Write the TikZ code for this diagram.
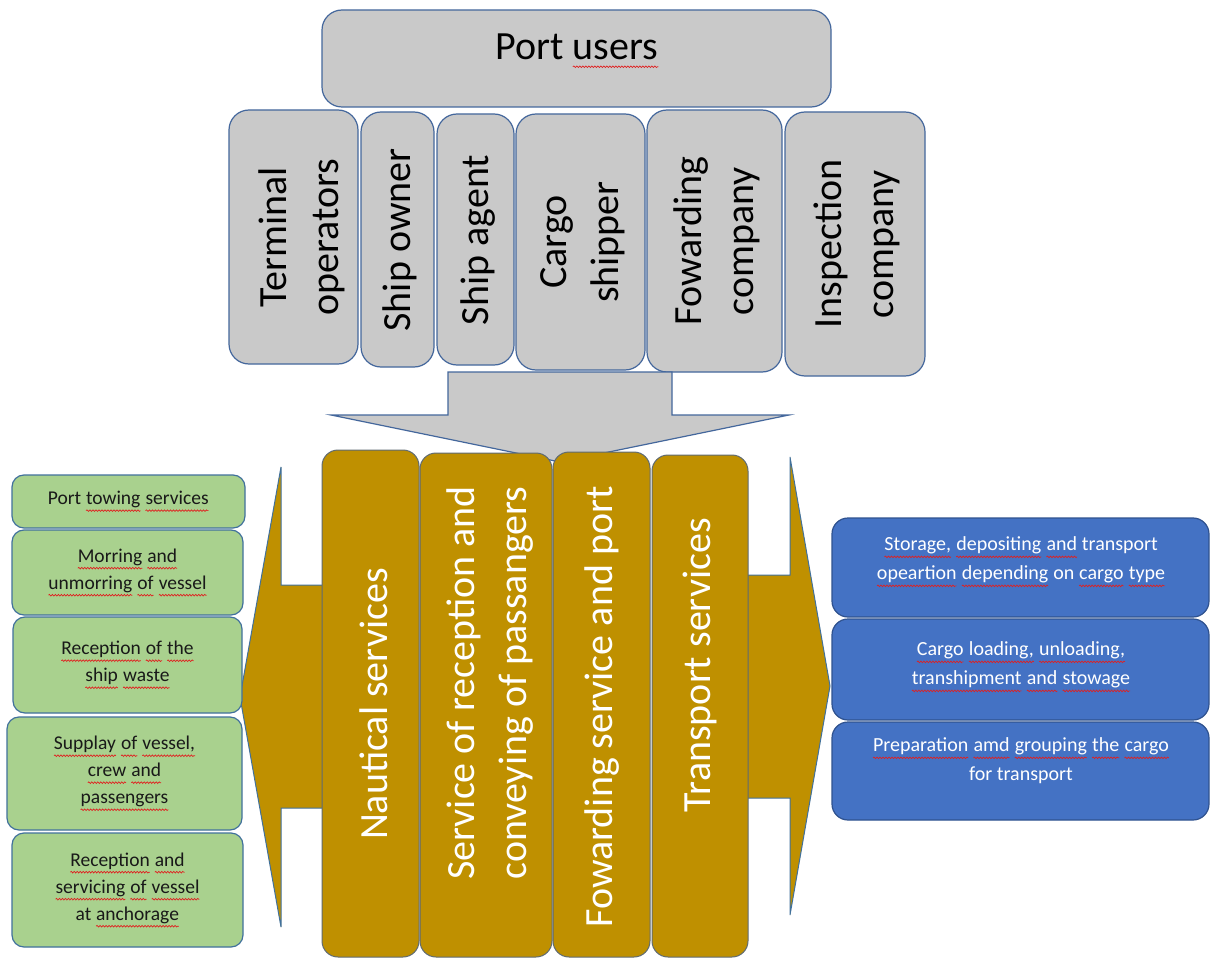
\documentclass[tikz,border=0pt]{standalone}
\usepackage{fontspec}
\setmainfont{Carlito}
\usetikzlibrary{fit,decorations.pathmorphing}
\definecolor{grayc}{HTML}{C9C9C9}
\definecolor{grayborder}{HTML}{44679C}
\definecolor{brownc}{HTML}{BF9000}
\definecolor{brownborder}{HTML}{5F6B73}
\definecolor{greenc}{HTML}{A9D18E}
\definecolor{greenborder}{HTML}{41719C}
\definecolor{bluec}{HTML}{4472C4}
\definecolor{blueborder}{HTML}{2F528F}
\definecolor{squig}{HTML}{E02020}
\newcommand\sqdrop{6pt}
\newcommand\sq[1]{\tikz[baseline=(w.base)]{\node[inner sep=0pt, outer sep=0pt, draw=none, fill=none, anchor=base] (w) at (0,0) {#1};
  \draw[squig, line width=0.7pt, decoration={snake, amplitude=0.8pt, segment length=3pt}, decorate]
  ([yshift=-\sqdrop]w.base west) -- ([yshift=-\sqdrop]w.base east);}}
\tikzset{
  box/.style={inner sep=0pt, outer sep=0pt, line width=1.2pt},
  graybox/.style={box, draw=grayborder, fill=grayc, rounded corners=20pt},
  brownbox/.style={box, draw=brownborder, fill=brownc, rounded corners=16pt, line width=1pt},
  greenbox/.style={box, draw=greenborder, fill=greenc, rounded corners=12pt},
  bluebox/.style={box, draw=blueborder, fill=bluec, rounded corners=16pt},
  coltext/.style={rotate=90, align=center, inner sep=0pt, font=\fontsize{40}{52}\selectfont, text=black},
  servtext/.style={coltext, text=white},
  titletext/.style={align=center, inner sep=0pt, font=\fontsize{40}{48}\selectfont, text=black},
  gtext/.style={align=center, inner sep=0pt, font=\fontsize{19.5}{27}\selectfont, text=black!90},
  btext/.style={align=center, inner sep=0pt, font=\fontsize{20}{29}\selectfont, text=white},
  grayarrow/.style={draw=grayborder, fill=grayc, line width=1.2pt, line join=miter},
  brownarrow/.style={draw=greenborder, fill=brownc, line width=1pt, line join=miter}
}
\begin{document}
\begin{tikzpicture}[x=1pt,y=-1pt]
\path[use as bounding box, fill=white] (0,0) rectangle (1211,960);

% Port users
\node[graybox, fit={(322,10) (831,107)}] (users) {};
\node[titletext] (userst) at (577,51) {Port \renewcommand\sqdrop{7pt}\sq{users}};

% user columns
\node[graybox, fit={(229,110) (358,364)}] (term) {};
\node[coltext] (termt) at (302,237) {Terminal\\operators};
\node[graybox, fit={(361,112) (434,367)}] (owner) {};
\node[coltext] (ownert) at (400,240) {Ship owner};
\node[graybox, fit={(437,114) (514,365)}] (agent) {};
\node[coltext] (agentt) at (478,240) {Ship agent};
\node[graybox, fit={(516,114) (645,370)}] (cargo) {};
\node[coltext] (cargot) at (583,242) {Cargo\\shipper};
\node[graybox, fit={(647,110) (782,372)}] (fwdc) {};
\node[coltext] (fwdct) at (717,241) {Fowarding\\company};
\node[graybox, fit={(785,112) (925,376)}] (insp) {};
\node[coltext] (inspt) at (857,244) {Inspection\\company};

% big gray arrow down
\path[grayarrow] (448,372) -- (672,372) -- (672,415) -- (789,415) -- (560,462)
  -- (331,415) -- (448,415) -- cycle;

% left and right brown arrows
\path[brownarrow] (330,585) -- (281,585) -- (281,467) -- (240,697) -- (281,927)
  -- (281,808) -- (330,808) -- cycle;
\path[brownarrow] (740,575) -- (790,575) -- (790,457) -- (830,686) -- (790,915)
  -- (790,798) -- (740,798) -- cycle;

% service columns
\node[brownbox, fit={(322,450) (419,957)}] (naut) {};
\node[servtext] (nautt) at (374,704) {Nautical services};
\node[brownbox, fit={(420,453) (552,957)}] (recp) {};
\node[servtext] (recpt) at (490,683) {Service of reception and\\conveying of passangers};
\node[brownbox, fit={(553,452) (650,957)}] (fwds) {};
\node[servtext] (fwdst) at (602,707) {Fowarding service and port};
\node[brownbox, fit={(652,455) (748,957)}] (trans) {};
\node[servtext] (transt) at (700,665) {Transport services};

% green boxes
\node[greenbox, fit={(12,475) (245,528)}] (g1) {};
\node[gtext] (g1t) at (g1.center) {Port \sq{towing} \sq{services}};
\node[greenbox, fit={(12,530) (243,615)}] (g2) {};
\node[gtext] (g2t) at (g2.center) {\sq{Morring} \sq{and}\\\sq{unmorring} \sq{of} \sq{vessel}};
\node[greenbox, fit={(13,617) (242,713)}] (g3) {};
\node[gtext] (g3t) at (g3.center) {\sq{Reception} \sq{of} \sq{the}\\\sq{ship} \sq{waste}};
\node[greenbox, fit={(7,717) (242,830)}] (g4) {};
\node[gtext] (g4t) at (g4.center) {\sq{Supplay} \sq{of} \sq{vessel,}\\\sq{crew} \sq{and}\\\sq{passengers}};
\node[greenbox, fit={(12,833) (243,947)}] (g5) {};
\node[gtext] (g5t) at (g5.center) {\sq{Reception} \sq{and}\\\sq{servicing} \sq{of} \sq{vessel}\\at \sq{anchorage}};

% blue boxes
\node[bluebox, fit={(832,518) (1209,617)}] (b1) {};
\node[btext] (b1t) at (1021,562) {\sq{Storage,} \sq{depositing} \sq{and} transport\\\sq{opeartion} \sq{depending} on \sq{cargo} \sq{type}};
\node[bluebox, fit={(832,619) (1209,720)}] (b2) {};
\node[btext] (b2t) at (1021,667) {\sq{Cargo} \sq{loading,} \sq{unloading,}\\\sq{transhipment} \sq{and} \sq{stowage}};
\node[bluebox, fit={(832,722) (1209,820)}] (b3) {};
\node[btext] (b3t) at (1021,761) {\sq{Preparation} \sq{amd} \sq{grouping} \sq{the} \sq{cargo}\\for transport};
\end{tikzpicture}
\end{document}
